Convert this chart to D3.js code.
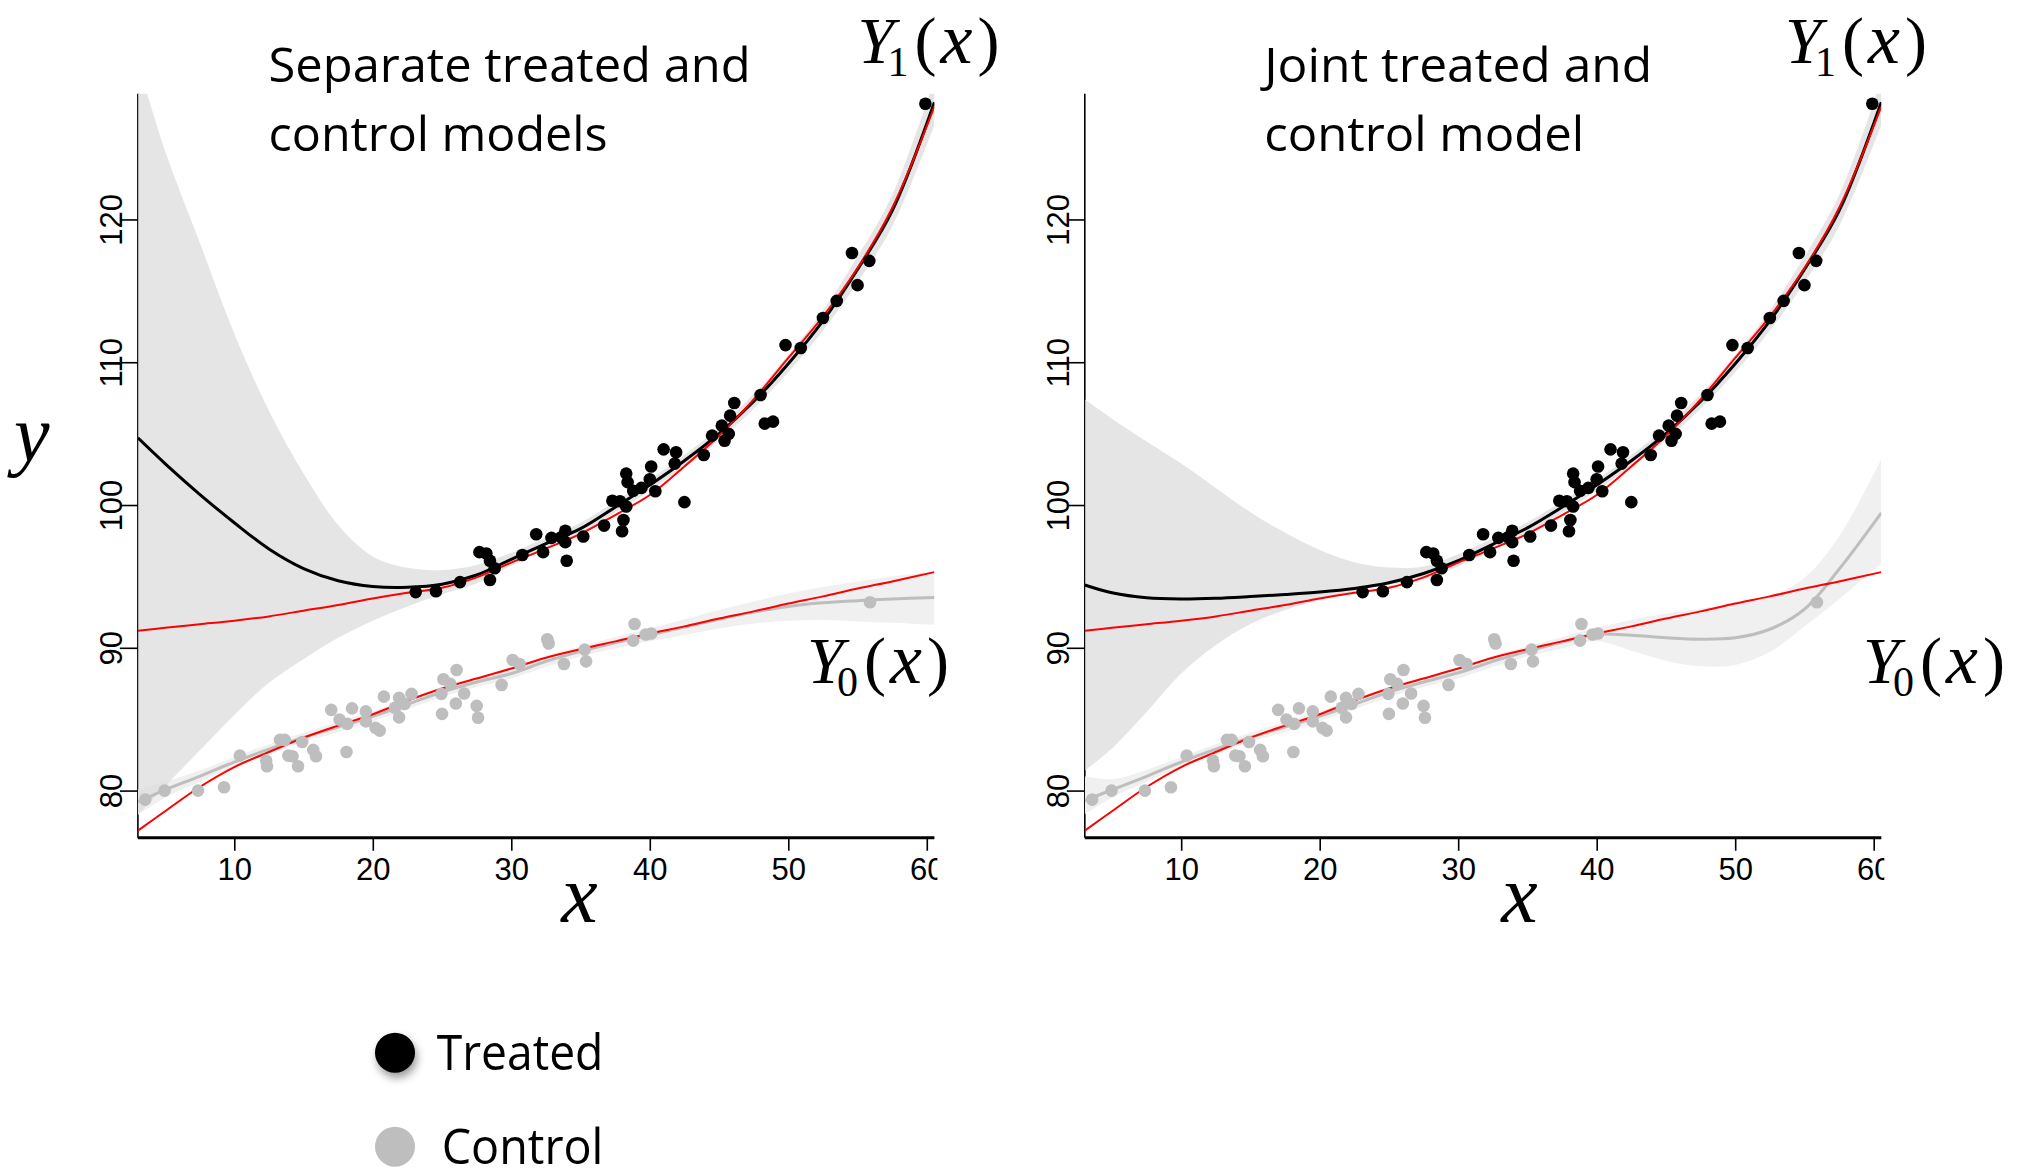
<!DOCTYPE html>
<html>
<head>
<meta charset="utf-8">
<script src="https://cdn.jsdelivr.net/npm/d3@7"></script>
<style>
body { margin: 0; background: #fff; }
svg { display: block; }
</style>
</head>
<body>
<script>
/*Data*/
var gridX = [3.04, 5, 7.5, 10, 12.5, 15, 17.5, 20, 22.5, 25, 27.5, 30, 32.5, 35, 37.5, 40, 42.5, 45, 47.5, 50, 52.5, 55, 57.5, 60.55];

// true response surfaces (red)
var trueY1 = [91.2, 91.4, 91.65, 91.9, 92.2, 92.6, 93.0, 93.45, 93.85, 94.2, 94.93, 95.97, 96.95, 97.98, 99.3, 100.7, 102.7, 104.85, 107.4, 110.3, 113.2, 116.6, 120.8, 127.9];
var trueY0 = [77.2, 78.55, 80.25, 81.65, 82.7, 83.7, 84.55, 85.35, 86.3, 87.15, 87.85, 88.55, 89.3, 89.9, 90.45, 91.0, 91.5, 92.05, 92.55, 93.1, 93.6, 94.15, 94.65, 95.3];

// separate models
var sepTreatedMean = [104.7, 102.9, 100.75, 98.76, 96.92, 95.55, 94.7, 94.3, 94.24, 94.45, 95.1, 96.2, 97.3, 98.35, 99.85, 101.4, 103.1, 105.0, 107.25, 109.9, 112.9, 116.5, 120.6, 128.2];
var sepTreatedHi = [131.0, 124.8, 118.4, 112.0, 106.6, 102.2, 98.6, 96.4, 95.6, 95.45, 95.8, 96.65, 97.7, 98.75, 100.25, 101.8, 103.5, 105.45, 107.75, 110.5, 113.6, 117.4, 121.7, 129.8];
var sepTreatedLo = [78.3, 80.3, 82.8, 85.3, 87.55, 89.2, 90.7, 91.9, 92.9, 93.75, 94.5, 95.75, 96.9, 97.95, 99.45, 101.0, 102.7, 104.55, 106.75, 109.3, 112.2, 115.6, 119.5, 126.6];
var sepControlMean = [79.2, 80.05, 81.0, 82.0, 82.9, 83.72, 84.45, 85.2, 86.05, 86.9, 87.6, 88.2, 89.05, 89.75, 90.35, 90.9, 91.45, 92.0, 92.5, 92.9, 93.15, 93.3, 93.42, 93.52];
var sepControlHi = [80.1, 80.6, 81.4, 82.35, 83.25, 84.05, 84.8, 85.55, 86.4, 87.25, 87.95, 88.6, 89.45, 90.1, 90.75, 91.35, 92.0, 92.65, 93.25, 93.8, 94.25, 94.65, 95.0, 95.35];
var sepControlLo = [78.3, 79.5, 80.6, 81.65, 82.55, 83.4, 84.1, 84.85, 85.7, 86.55, 87.25, 87.85, 88.65, 89.4, 89.95, 90.45, 90.9, 91.35, 91.7, 91.9, 91.95, 91.85, 91.75, 91.6];

// joint model
var jointTreatedMean = [94.4, 93.85, 93.5, 93.42, 93.47, 93.59, 93.73, 93.9, 94.15, 94.55, 95.2, 96.1, 97.25, 98.4, 99.85, 101.4, 103.1, 105.0, 107.25, 109.9, 112.9, 116.5, 120.6, 128.2];
var jointTreatedHi = [107.4, 106.05, 104.45, 102.9, 101.2, 99.5, 98.05, 96.85, 96.0, 95.62, 95.7, 96.55, 97.65, 98.8, 100.25, 101.8, 103.5, 105.45, 107.75, 110.5, 113.6, 117.4, 121.7, 129.8];
var jointTreatedLo = [81.4, 82.95, 85.5, 88.2, 90.2, 91.67, 92.65, 93.35, 93.95, 94.4, 94.8, 95.7, 96.85, 97.95, 99.45, 101.0, 102.7, 104.55, 106.75, 109.3, 112.2, 115.6, 119.5, 126.6];
var jointControlMean = [79.3, 80.05, 81.0, 82.0, 82.9, 83.72, 84.45, 85.2, 86.05, 86.9, 87.6, 88.25, 89.05, 89.75, 90.4, 90.95, 90.88, 90.7, 90.6, 90.7, 91.3, 92.7, 95.5, 99.45];
var jointControlHi = [81.0, 80.8, 81.45, 82.35, 83.25, 84.05, 84.8, 85.55, 86.4, 87.25, 87.95, 88.6, 89.45, 90.1, 90.75, 91.4, 91.95, 92.4, 92.75, 93.1, 93.55, 94.9, 97.8, 103.2];
var jointControlLo = [78.35, 79.5, 80.6, 81.65, 82.55, 83.4, 84.1, 84.85, 85.7, 86.55, 87.25, 87.85, 88.65, 89.4, 89.95, 90.45, 89.8, 89.1, 88.7, 88.8, 89.7, 91.5, 93.4, 95.9];

// observations
var treatedX = [23.1, 24.56, 26.3, 27.7, 28.2, 28.46, 28.8, 28.46, 30.8, 31.8, 32.3, 32.9, 33.9, 33.9, 34.0, 33.6, 35.2, 36.7, 37.3, 37.85, 38.3, 38.4, 38.3, 38.1, 38.0, 38.8, 39.4, 40.0, 40.1, 40.4, 41.0, 41.9, 41.8, 42.5, 43.9, 44.5, 45.2, 45.7, 45.4, 45.8, 46.1, 48.0, 48.3, 48.9, 49.8, 50.9, 52.5, 53.5, 54.6, 55.0, 55.85, 59.9];
var treatedY = [93.9, 93.96, 94.6, 96.7, 96.6, 96.1, 95.57, 94.75, 96.5, 97.95, 96.7, 97.7, 98.2, 97.4, 96.1, 97.74, 97.8, 98.56, 100.3, 100.26, 102.2, 101.6, 99.9, 98.95, 98.16, 101.0, 101.2, 101.8, 102.7, 100.96, 103.9, 103.7, 102.9, 100.2, 103.5, 104.86, 105.56, 104.98, 104.5, 106.26, 107.15, 107.7, 105.7, 105.84, 111.2, 111.0, 113.1, 114.3, 117.65, 115.4, 117.1, 128.1];
var controlX = [3.57, 4.97, 7.38, 9.26, 10.4, 12.3, 12.36, 13.3, 13.64, 13.9, 14.2, 14.6, 14.9, 15.7, 15.9, 17.0, 17.6, 18.16, 18.1, 18.5, 19.5, 19.5, 20.2, 20.5, 20.8, 21.9, 21.9, 21.6, 22.3, 22.8, 24.95, 25.0, 25.1, 25.6, 26.0, 26.05, 26.6, 27.5, 27.6, 29.3, 30.1, 30.6, 32.6, 32.7, 33.8, 35.3, 35.4, 38.9, 38.8, 39.7, 40.1, 55.9];
var controlY = [79.37, 80.0, 80.0, 80.23, 82.45, 82.1, 81.7, 83.55, 83.55, 82.45, 82.4, 81.7, 83.4, 82.85, 82.4, 85.65, 84.97, 84.67, 82.7, 85.76, 85.55, 84.85, 84.39, 84.2, 86.58, 86.49, 85.13, 85.8, 86.07, 86.77, 86.77, 85.37, 87.8, 87.47, 86.1, 88.45, 86.8, 85.93, 85.1, 87.4, 89.15, 88.87, 90.6, 90.3, 88.87, 89.87, 89.05, 91.67, 90.5, 90.93, 91.0, 93.19];

var xTicks = [10, 20, 30, 40, 50, 60];
var yTicks = [80, 90, 100, 110, 120];
var xDomain = [3.04, 60.55];
var yDomain = [76.7, 128.8];
var legendLabels = ["Treated", "Control"];

/*Layout*/
var W = 2030, H = 1168;
var plotW = 796.5, plotH = 743.9, plotTop = 93.8;

var panels = [
	{left: 137.9, title: ["Separate treated and", "control models"], titleX: 268.6, titleLen: [482, 339],
	 y1Label: 857.6, y0Label: 807, xLabel: 579.5,
	 tMean: sepTreatedMean, tLo: sepTreatedLo, tHi: sepTreatedHi,
	 cMean: sepControlMean, cLo: sepControlLo, cHi: sepControlHi},
	{left: 1084.8, title: ["Joint treated and", "control model"], titleX: 1264.2, titleLen: [388, 320],
	 y1Label: 1785, y0Label: 1863, xLabel: 1519.5,
	 tMean: jointTreatedMean, tLo: jointTreatedLo, tHi: jointTreatedHi,
	 cMean: jointControlMean, cLo: jointControlLo, cHi: jointControlHi}
];

var svg = d3.select("body")
			.append("svg")
			.attr("width", W)
			.attr("height", H);

svg.append("rect").attr("width", W).attr("height", H).attr("fill", "#fff");

var defs = svg.append("defs");
var shadow = defs.append("filter").attr("id", "dotShadow")
	.attr("x", "-50%").attr("y", "-50%").attr("width", "200%").attr("height", "200%");
shadow.append("feDropShadow").attr("dx", 2).attr("dy", 5).attr("stdDeviation", 4)
	.attr("flood-color", "#000").attr("flood-opacity", 0.4);

/*Scales*/
var xScale = d3.scaleLinear().domain(xDomain).range([0, plotW]);
var yScale = d3.scaleLinear().domain(yDomain).range([plotH, 0]);

var line = d3.line()
	.x(function(d) { return xScale(d[0]); })
	.y(function(d) { return yScale(d[1]); })
	.curve(d3.curveCatmullRom.alpha(0.5));

var band = d3.area()
	.x(function(d) { return xScale(d[0]); })
	.y0(function(d) { return yScale(d[1]); })
	.y1(function(d) { return yScale(d[2]); })
	.curve(d3.curveCatmullRom.alpha(0.5));

function zipLine(vals) {
	return gridX.map(function(gx, i) { return [gx, vals[i]]; });
}
function zipBand(lo, hi) {
	return gridX.map(function(gx, i) { return [gx, lo[i], hi[i]]; });
}

// Y_k(x) written as one text element
function mathLabel(g, x0, base, sub) {
	var t = g.append("text").attr("y", base)
		.attr("font-family", "'Liberation Serif', 'DejaVu Serif', serif")
		.attr("font-size", 66);
	t.append("tspan").attr("x", x0).attr("font-style", "italic").text("Y");
	t.append("tspan").attr("x", x0 + 30).attr("dy", 13).attr("font-size", 42).text(sub);
	t.append("tspan").attr("x", x0 + 57).attr("dy", -13).text("(");
	t.append("tspan").attr("x", x0 + 83).attr("font-style", "italic").attr("font-size", 72).text("x");
	t.append("tspan").attr("x", x0 + 120).text(")");
}

function drawPanel(p, idx) {
	var g = svg.append("g")
		.attr("transform", "translate(" + p.left + "," + plotTop + ")");

	defs.append("clipPath").attr("id", "plotClip" + idx)
		.append("rect").attr("x", 0).attr("y", 0).attr("width", plotW).attr("height", plotH);
	defs.append("clipPath").attr("id", "tickClip" + idx)
		.append("rect").attr("x", -200).attr("y", -50).attr("width", plotW + 203).attr("height", plotH + 300);

	// y axis line sits under the bands
	g.append("line").attr("x1", 0).attr("x2", 0).attr("y1", 0).attr("y2", plotH)
		.attr("stroke", "#000").attr("stroke-width", 1.6);

	var plot = g.append("g").attr("clip-path", "url(#plotClip" + idx + ")");

	plot.append("path").datum(zipBand(p.cLo, p.cHi))
		.attr("d", band).attr("fill", "#f0f0f0");
	plot.append("path").datum(zipBand(p.tLo, p.tHi))
		.attr("d", band).attr("fill", "#d9d9d9").attr("fill-opacity", 0.69);

	plot.append("path").datum(zipLine(p.cMean))
		.attr("d", line).attr("fill", "none").attr("stroke", "#bebebe").attr("stroke-width", 3);

	g.append("g").selectAll("circle")
		.data(controlX.map(function(cx, i) { return [cx, controlY[i]]; }))
		.enter().append("circle")
		.attr("cx", function(d) { return xScale(d[0]); })
		.attr("cy", function(d) { return yScale(d[1]); })
		.attr("r", 6.3)
		.attr("fill", "#bebebe");

	plot.append("path").datum(zipLine(trueY0))
		.attr("d", line).attr("fill", "none").attr("stroke", "#ff0000").attr("stroke-width", 2);
	plot.append("path").datum(zipLine(p.tMean))
		.attr("d", line).attr("fill", "none").attr("stroke", "#000").attr("stroke-width", 3);
	plot.append("path").datum(zipLine(trueY1))
		.attr("d", line).attr("fill", "none").attr("stroke", "#ff0000").attr("stroke-width", 2);

	g.append("g").selectAll("circle")
		.data(treatedX.map(function(tx, i) { return [tx, treatedY[i]]; }))
		.enter().append("circle")
		.attr("cx", function(d) { return xScale(d[0]); })
		.attr("cy", function(d) { return yScale(d[1]); })
		.attr("r", 6.3)
		.attr("fill", "#000");

	/*Axes*/
	var xAxis = d3.axisBottom(xScale).tickValues(xTicks).tickSize(13).tickPadding(7);
	var xg = g.append("g")
		.attr("transform", "translate(0," + plotH + ")")
		.attr("clip-path", "url(#tickClip" + idx + ")")
		.call(xAxis);
	xg.select(".domain").remove();
	xg.selectAll(".tick line").attr("stroke-width", 1.6);
	xg.selectAll(".tick text")
		.attr("font-family", "'Liberation Sans', Arial, sans-serif")
		.attr("font-size", 31).attr("fill", "#000");

	var yAxis = d3.axisLeft(yScale).tickValues(yTicks).tickSize(18);
	var yg = g.append("g").call(yAxis);
	yg.select(".domain").remove();
	yg.selectAll(".tick line").attr("stroke-width", 1.6);
	yg.selectAll(".tick text")
		.attr("x", null).attr("dy", null)
		.attr("transform", "translate(-16,0) rotate(-90)")
		.attr("text-anchor", "middle")
		.attr("font-family", "'Liberation Sans', Arial, sans-serif")
		.attr("font-size", 31).attr("fill", "#000");

	g.append("line").attr("x1", 0).attr("x2", plotW).attr("y1", plotH).attr("y2", plotH)
		.attr("stroke", "#000").attr("stroke-width", 3);

	/*Texts*/
	p.title.forEach(function(t, i) {
		svg.append("text")
			.attr("x", p.titleX).attr("y", 82.3 + i * 69)
			.attr("font-family", "'Open Sans', 'Noto Sans', sans-serif")
			.attr("font-size", 48)
			.attr("textLength", p.titleLen[i]).attr("lengthAdjust", "spacingAndGlyphs")
			.text(t);
	});
	mathLabel(svg, p.y1Label, 63, "1");
	mathLabel(svg, p.y0Label, 683, "0");

	svg.append("text")
		.attr("x", p.xLabel).attr("y", 922)
		.attr("text-anchor", "middle")
		.attr("font-family", "'Liberation Serif', 'DejaVu Serif', serif")
		.attr("font-style", "italic").attr("font-size", 82)
		.text("x");
}

panels.forEach(drawPanel);

svg.append("text")
	.attr("x", 14).attr("y", 461)
	.attr("font-family", "'Liberation Serif', 'DejaVu Serif', serif")
	.attr("font-style", "italic").attr("font-size", 80)
	.text("y");

/*Legend*/
var legend = svg.append("g");
var legendColors = ["#000", "#bebebe"];
var legendLen = [166.7, 161.7];
legendLabels.forEach(function(lab, i) {
	var cy = 1052.7 + i * 94;
	legend.append("circle").attr("cx", 395).attr("cy", cy).attr("r", 20)
		.attr("fill", legendColors[i])
		.attr("filter", i === 0 ? "url(#dotShadow)" : null);
	legend.append("text")
		.attr("x", i === 0 ? 436.7 : 441.7).attr("y", cy + 17)
		.attr("font-family", "'Open Sans', 'Noto Sans', sans-serif")
		.attr("font-size", 50)
		.attr("textLength", legendLen[i]).attr("lengthAdjust", "spacingAndGlyphs")
		.text(lab);
});
</script>
</body>
</html>
